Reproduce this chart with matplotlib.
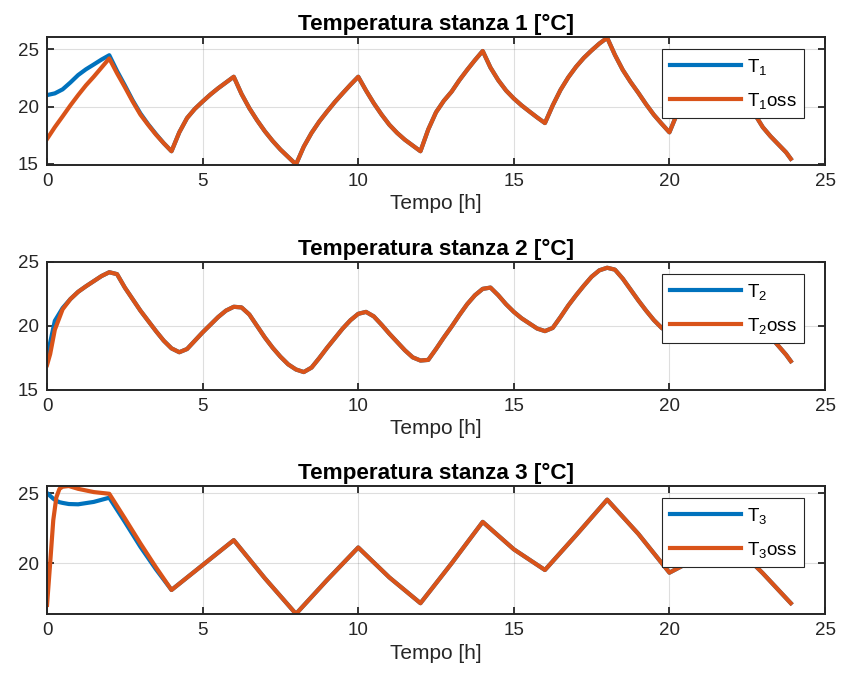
import matplotlib
matplotlib.use("Agg")
import matplotlib.pyplot as plt

plt.rcParams["font.family"] = ["Liberation Sans", "DejaVu Sans"]
plt.rcParams["mathtext.fontset"] = "custom"
plt.rcParams["mathtext.rm"] = "Liberation Sans"
plt.rcParams["mathtext.default"] = "regular"

# ---- room 1 (quarter-hour samples, last one at 23.9 h) ----
t1 = [k * 0.25 for k in range(96)] + [23.9]
T1 = [21.0, 21.15, 21.5, 22.1,      # 0 h
      22.75, 23.25, 23.67, 24.1,    # 1 h
      24.48, 23.1, 21.85, 20.55,    # 2 h
      19.4, 18.45, 17.6, 16.8,      # 3 h
      16.1, 17.75, 19.0, 19.8,      # 4 h
      20.44, 21.05, 21.6, 22.1,     # 5 h
      22.6, 21.1, 19.86, 18.8,      # 6 h
      17.84, 17.0, 16.25, 15.6,     # 7 h
      14.95, 16.5, 17.7, 18.7,      # 8 h
      19.57, 20.4, 21.16, 21.9,     # 9 h
      22.6, 21.4, 20.29, 19.3,      # 10 h
      18.41, 17.7, 17.1, 16.6,      # 11 h
      16.1, 18.0, 19.5, 20.5,       # 12 h
      21.3, 22.3, 23.2, 24.05,      # 13 h
      24.85, 23.4, 22.3, 21.4,      # 14 h
      20.7, 20.1, 19.57, 19.05,     # 15 h
      18.56, 20.1, 21.45, 22.55,    # 16 h
      23.47, 24.25, 24.9, 25.5,     # 17 h
      26.0, 24.5, 23.2, 22.15,      # 18 h
      21.2, 20.2, 19.28, 18.5,      # 19 h
      17.75, 19.4, 20.2, 20.8,      # 20 h
      21.3, 21.8, 22.2, 22.6,       # 21 h
      23.0, 21.6, 20.5, 19.3,       # 22 h
      18.2, 17.4, 16.7, 16.0,       # 23 h
      15.44]
T1_oss_head = [17.17, 18.2, 19.14, 20.1,
               21.0, 21.85, 22.6, 23.4,
               24.2, 22.9, 21.7, 20.45,
               19.3, 18.4, 17.55, 16.8]
T1_oss = T1_oss_head + T1[len(T1_oss_head):]

# ---- room 2 ----
t2 = [0, 0.1] + [k * 0.25 for k in range(1, 96)] + [23.9]
T2 = [17.3, 18.7, 20.4, 21.4, 22.1,  # 0 h
      22.67, 23.1, 23.5, 23.9,       # 1 h
      24.2, 24.05, 23.0, 22.1,       # 2 h
      21.2, 20.4, 19.6, 18.85,       # 3 h
      18.25, 17.95, 18.2, 18.85,     # 4 h
      19.5, 20.1, 20.7, 21.2,        # 5 h
      21.5, 21.45, 20.9, 20.0,       # 6 h
      19.1, 18.3, 17.6, 17.0,        # 7 h
      16.6, 16.4, 16.75, 17.5,       # 8 h
      18.3, 19.05, 19.8, 20.45,      # 9 h
      20.95, 21.1, 20.75, 20.1,      # 10 h
      19.4, 18.75, 18.1, 17.55,      # 11 h
      17.3, 17.35, 18.2, 19.1,       # 12 h
      19.95, 20.85, 21.7, 22.4,      # 13 h
      22.9, 23.0, 22.4, 21.7,        # 14 h
      21.1, 20.6, 20.2, 19.8,        # 15 h
      19.6, 19.85, 20.7, 21.6,       # 16 h
      22.4, 23.15, 23.85, 24.35,     # 17 h
      24.55, 24.4, 23.7, 22.85,      # 18 h
      22.0, 21.2, 20.46, 19.85,      # 19 h
      19.45, 19.5, 20.05, 20.65,     # 20 h
      21.2, 21.65, 22.0, 22.3,       # 21 h
      22.4, 22.1, 21.4, 20.65,       # 22 h
      19.9, 19.15, 18.45, 17.75,     # 23 h
      17.25]
T2_oss_head = [16.95, 17.8, 19.7, 21.3]
T2_oss = T2_oss_head + T2[len(T2_oss_head):]

# ---- room 3 ----
t3 = [0, 0.1, 0.2, 0.3, 0.4, 0.5, 0.7, 1, 1.5, 2, 2.5, 3, 3.5,
      4, 5, 6, 7, 8, 9, 10, 11, 12, 13, 14, 15, 16, 17, 18,
      19, 20, 21, 22, 23, 23.9]
T3 = [25.0, 24.8, 24.6, 24.45, 24.35, 24.3, 24.22, 24.2, 24.37, 24.67,
      22.95, 21.18, 19.58,
      18.11, 19.88, 21.65, 18.94, 16.41, 18.82, 21.13, 19.0, 17.17, 20.0,
      22.95, 21.0, 19.53, 22.0, 24.53, 22.1, 19.34, 20.5, 21.5, 19.3, 17.17]
T3_oss_head = [17.05, 20.0, 23.07, 24.7, 25.3, 25.45, 25.5, 25.3, 25.07, 24.95,
               23.2, 21.42, 19.72]
T3_oss = T3_oss_head + T3[len(T3_oss_head):]

titles = ["Temperatura stanza 1 [°C]", "Temperatura stanza 2 [°C]",
          "Temperatura stanza 3 [°C]"]
ylims = [(14.9, 26.07), (15, 25), (16.4, 25.5)]
yticks = [[15, 20, 25], [15, 20, 25], [20, 25]]

BLUE = "#0072BD"
ORANGE = "#D95319"
DARK = "#262626"

fig = plt.figure(figsize=(8.46, 6.74), dpi=100)
bottoms = [0.7552, 0.4214, 0.0890]
series = [(t1, T1, T1_oss), (t2, T2, T2_oss), (t3, T3, T3_oss)]

for i, (t, T, Toss) in enumerate(series):
    ax = fig.add_axes([0.0556, bottoms[i], 0.9196, 0.1899])
    ax.plot(t, T, color=BLUE, lw=3, label=f"T$_{{{i + 1}}}$")
    ax.plot(t, Toss, color=ORANGE, lw=3, label=f"T$_{{{i + 1}}}$oss")
    ax.set_xlim(0, 25)
    ax.set_ylim(*ylims[i])
    ax.set_xticks([0, 5, 10, 15, 20, 25])
    ax.set_yticks(yticks[i])
    ax.grid(True, color=DARK, alpha=0.15, lw=0.8)
    ax.tick_params(direction="in", top=True, right=True, length=5, width=1.3,
                   labelsize=13.5, color=DARK, labelcolor=DARK, pad=6)
    for s in ax.spines.values():
        s.set_linewidth(1.4)
        s.set_color(DARK)
    ax.set_title(titles[i], fontsize=16.2, fontweight="bold", color="black",
                 pad=5)
    ax.set_xlabel("Tempo [h]", fontsize=15, color=DARK, labelpad=3)
    leg = ax.legend(loc="upper right", bbox_to_anchor=(0.973, 0.906),
                    borderaxespad=0, fontsize=13.5, handlelength=3.8,
                    handletextpad=0.3, labelspacing=0.75, fancybox=False,
                    framealpha=1, edgecolor=DARK)
    leg.get_frame().set_linewidth(0.8)

fig.savefig("out.png", dpi=100)
